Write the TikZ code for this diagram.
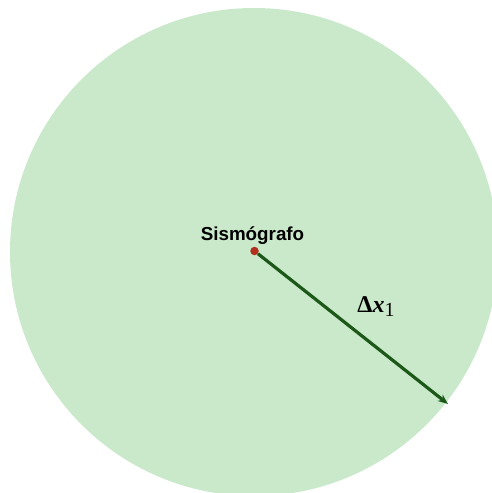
\documentclass[tikz,border=0pt]{standalone}
\usepackage{fontspec}
\setmainfont{Liberation Serif}
\newfontfamily\sismofont{Liberation Sans}
\usetikzlibrary{arrows.meta}

\definecolor{zonegreen}{RGB}{202,233,202}
\definecolor{arrowgreen}{RGB}{28,88,24}
\definecolor{dotred}{RGB}{178,48,30}

\tikzset{
  zone/.style={fill=zonegreen, draw=none},
  station/.style={circle, fill=dotred, inner sep=0pt, minimum size=8.5pt},
  radius arrow/.style={draw=arrowgreen, line width=3.2pt, -{Stealth[length=10pt,width=8pt]}},
}

\begin{document}
\begin{tikzpicture}[x=1pt, y=-1pt]

  %% ════ zona circular ════
  \fill[zone] (254,252) circle (244);

  %% ════ sismógrafo + radio ════
  \node[station] (sismo) at (254.5,251) {};
  \coordinate (tip) at (448,404);
  \draw[radius arrow] (sismo) -- (tip);

  %% ════ etiquetas ════
  \node[anchor=base,inner sep=0pt,font=\sismofont\bfseries\fontsize{18.8}{22}\selectfont] (lblsismo) at (252.5,240.5) {Sismógrafo};
  \node[anchor=base,inner sep=0pt,font=\fontsize{24}{28}\selectfont] (lbldx) at (376,312.5) {\textbf{Δ\textit{x}}{\fontsize{20}{24}\selectfont\raisebox{-3.5pt}{1}}};

  % lienzo fijo
  \pgfresetboundingbox
  \path[use as bounding box] (0,0) rectangle (492,493);
\end{tikzpicture}
\end{document}
